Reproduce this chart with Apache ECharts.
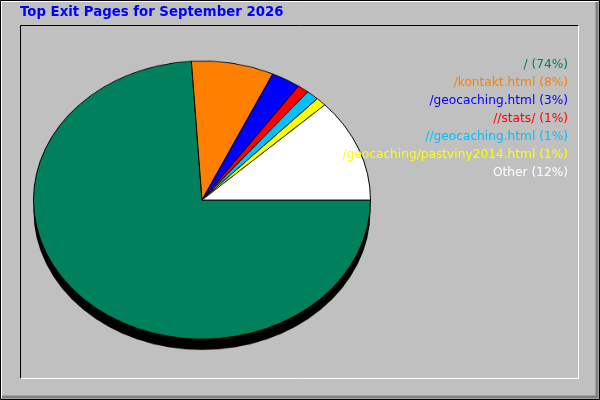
<!DOCTYPE html>
<html>
<head>
<meta charset="utf-8">
<script src="https://cdn.jsdelivr.net/npm/echarts@6/dist/echarts.min.js"></script>
<style>
html,body{margin:0;padding:0;background:#C0C0C0;}
#main{position:absolute;left:0;top:0;width:600px;height:400px;z-index:2;}
#pie{position:absolute;left:32px;top:30px;width:340px;height:360px;transform-origin:170px 170px;z-index:1;}
</style>
</head>
<body>
<div id="pie"></div>
<div id="main"></div>
<script>
const titleText = 'Top Exit Pages for September 2026';
const pages = ['/', '/kontakt.html', '/geocaching.html', '//stats/', '//geocaching.html', '/geocaching/pastviny2014.html', 'Other'];
const values = [74.0, 7.9, 2.8, 1.1, 1.2, 1.0, 12.0];
const percents = ['74%', '8%', '3%', '1%', '1%', '1%', '12%'];
const colors = ['#00805C', '#FF8000', '#0000FF', '#FF0000', '#00C0FF', '#FFFF00', '#FFFFFF'];

const RX = 168.5, RY = 139;
document.getElementById('pie').style.transform = 'scaleY(' + (RY / RX) + ')';

const main = echarts.init(document.getElementById('main'), null, {renderer: 'canvas'});
const graphics = [
  {type: 'polyline', shape: {points: [[0.5, 399.5], [0.5, 0.5], [599.5, 0.5], [599.5, 399.5], [0.5, 399.5]]}, style: {stroke: '#000', lineWidth: 1, fill: null}},
  {type: 'polyline', shape: {points: [[1.5, 398], [1.5, 1.5], [598, 1.5]]}, style: {stroke: '#FFF', lineWidth: 1, fill: null}},
  {type: 'polyline', shape: {points: [[2, 397], [597, 397], [597, 2]]}, style: {stroke: '#808080', lineWidth: 3, fill: null}},
  {type: 'polyline', shape: {points: [[20.5, 378.5], [20.5, 25.5], [578.5, 25.5]]}, style: {stroke: '#000', lineWidth: 1, fill: null}},
  {type: 'polyline', shape: {points: [[20.5, 378.5], [578.5, 378.5], [578.5, 25.5]]}, style: {stroke: '#FFF', lineWidth: 1, fill: null}},
  {type: 'text', x: 20, y: 6, style: {text: titleText, fill: '#0000FF', font: 'bold 13.3px "DejaVu Sans"', textVerticalAlign: 'top'}}
];
pages.forEach(function (p, i) {
  graphics.push({
    type: 'text', x: 568, y: 65 + i * 18,
    style: {
      text: p + ' (' + percents[i] + ')', fill: colors[i],
      font: '12.2px "DejaVu Sans"', textAlign: 'right', textVerticalAlign: 'middle'
    }
  });
});
main.setOption({animation: false, backgroundColor: 'transparent', graphic: graphics});

const pie = echarts.init(document.getElementById('pie'), null, {renderer: 'canvas'});
pie.setOption({
  animation: false,
  backgroundColor: 'transparent',
  series: [
    {
      type: 'pie', silent: true, z: 1,
      center: [170, 170 + 11 * RX / RY], radius: [0, RX],
      label: {show: false}, labelLine: {show: false},
      itemStyle: {color: '#000'},
      data: [{value: 1, name: 'shadow'}]
    },
    {
      type: 'pie', silent: true, z: 2,
      center: [170, 170], radius: [0, RX],
      startAngle: 0, clockwise: true,
      label: {show: false}, labelLine: {show: false},
      itemStyle: {borderColor: '#000', borderWidth: 1},
      data: pages.map(function (p, i) { return {name: p, value: values[i], itemStyle: {color: colors[i]}}; })
    }
  ]
});
</script>
</body>
</html>
